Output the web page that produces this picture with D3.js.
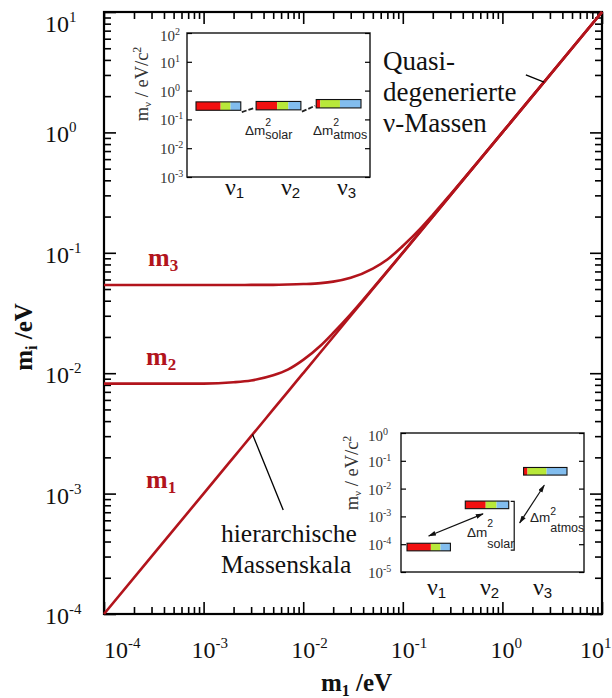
<!DOCTYPE html>
<html>
<head>
<meta charset="utf-8">
<script src="https://cdn.jsdelivr.net/npm/d3@7"></script>
<style>
body { margin: 0; background: #fff; }
svg text { font-family: "Liberation Serif", "Times New Roman", serif; fill: #111; }
svg text.sans { font-family: "Liberation Sans", Arial, sans-serif; fill: #222; }
</style>
</head>
<body>
<div id="output"></div>
<script>
(function () {

"use strict";

// main chart: the three neutrino masses against the lightest one
var m1Values = [1e-4, 1e-3, 2e-3, 3e-3, 5e-3, 7e-3, 1e-2, 1.5e-2, 2e-2, 3e-2, 5e-2, 7e-2, 0.1, 0.15, 0.2, 0.3, 0.5, 1, 10]
var m2Values = [0.0082, 0.0082, 0.0084, 0.0087, 0.0096, 0.0107, 0.0129, 0.017, 0.0216, 0.031, 0.0507, 0.0705, 0.1003, 0.150, 0.200, 0.300, 0.500, 1, 10]
var m3Values = [0.054, 0.054, 0.054, 0.0541, 0.0542, 0.0545, 0.055, 0.056, 0.0576, 0.062, 0.074, 0.088, 0.114, 0.159, 0.207, 0.305, 0.503, 1, 10]
var decades = [1e-4, 1e-3, 1e-2, 1e-1, 1, 10]
var decadeExp = ["-4", "-3", "-2", "-1", "0", "1"]

// insets: mass of each eigenstate and its flavour shares (e, mu, tau)
var nuNames = ["1", "2", "3"]
var degenerateMasses = [0.29, 0.30, 0.35]
var hierarchicMasses = [7.9e-5, 2.6e-3, 0.042]
var eShare = [0.55, 0.47, 0.09]
var muShare = [0.22, 0.25, 0.44]
var tauShare = [0.23, 0.28, 0.47]
var topInsetTicks = [1e2, 1e1, 1, 1e-1, 1e-2, 1e-3]
var topInsetExp = ["2", "1", "0", "-1", "-2", "-3"]
var bottomInsetTicks = [1, 1e-1, 1e-2, 1e-3, 1e-4, 1e-5]
var bottomInsetExp = ["0", "-1", "-2", "-3", "-4", "-5"]

var curveColor = "#b2141c"
  , flavourColors = ["#f21010", "#b8e83a", "#82bdee"]

var svg = d3.select("#output").append("svg").attr("width", 612).attr("height", 698)

var x = d3.scaleLog().domain([1e-4, 10]).range([104, 602])
  , y = d3.scaleLog().domain([1e-4, 10]).range([614, 12])
  , isDecade = function (v) { return Math.abs(Math.log10(v) - Math.round(Math.log10(v))) < 1e-9 }
  , minorX = x.ticks().filter(function (v) { return !isDecade(v) })
  , minorY = y.ticks().filter(function (v) { return !isDecade(v) })

function power(g, px, py, exp, size, supSize, rise) {
  var t = g.append("text").attr("x", px).attr("y", py).style("font-size", size + "px")
  t.append("tspan").text("10")
  t.append("tspan").attr("dy", -rise).style("font-size", supSize + "px").text(exp)
  return t
}

function styleAxis(g, width) {
  g.select(".domain").remove()
  g.selectAll(".tick line").attr("stroke", "#000").attr("stroke-width", width)
}

// ticks on all four sides, pointing inwards
var axes = svg.append("g")
;[[minorX, 7], [decades, 12]].forEach(function (t) {
  axes.append("g").attr("transform", "translate(0,614)")
    .call(d3.axisBottom(x).tickValues(t[0]).tickSize(-t[1]).tickFormat("")).call(styleAxis, 1.6)
  axes.append("g").attr("transform", "translate(0,12)")
    .call(d3.axisTop(x).tickValues(t[0]).tickSize(-t[1]).tickFormat("")).call(styleAxis, 1.6)
})
;[[minorY, 7], [decades, 12]].forEach(function (t) {
  axes.append("g").attr("transform", "translate(104,0)")
    .call(d3.axisLeft(y).tickValues(t[0]).tickSize(-t[1]).tickFormat("")).call(styleAxis, 1.6)
  axes.append("g").attr("transform", "translate(602,0)")
    .call(d3.axisRight(y).tickValues(t[0]).tickSize(-t[1]).tickFormat("")).call(styleAxis, 1.6)
})

svg.append("rect").attr("x", 104).attr("y", 12).attr("width", 498).attr("height", 602)
  .attr("fill", "none").attr("stroke", "#000").attr("stroke-width", 2.2)

// tick labels
decades.forEach(function (v, i) {
  var dx = i === 0 ? 0 : (i === decades.length - 1 ? -22 : -12)
  power(svg, x(v) + dx, 658, decadeExp[i], 24, 15, 10)
  power(svg, 45, y(v) + (i === decades.length - 1 ? 20 : 10), decadeExp[i], 24, 15, 10)
})

// axis titles
var xt = svg.append("text").attr("x", 321).attr("y", 691).style("font-size", "25px").style("font-weight", "bold")
xt.append("tspan").text("m")
xt.append("tspan").attr("dy", 5).style("font-size", "16px").text("1")
xt.append("tspan").attr("dy", -5).text(" /eV")

var yt = svg.append("text").attr("transform", "translate(32,337) rotate(-90)")
  .attr("text-anchor", "middle").style("font-size", "25px").style("font-weight", "bold")
yt.append("tspan").text("m")
yt.append("tspan").attr("dy", 5).style("font-size", "16px").text("i")
yt.append("tspan").attr("dy", -5).text(" /eV")

// mass curves
var line = d3.line()
  .x(function (d) { return x(d[0]) })
  .y(function (d) { return y(d[1]) })
  .curve(d3.curveMonotoneX)

;[m1Values, m2Values, m3Values].forEach(function (vals) {
  svg.append("path")
    .datum(m1Values.map(function (m, i) { return [m, vals[i]] }))
    .attr("d", line)
    .attr("fill", "none").attr("stroke", curveColor).attr("stroke-width", 2.6)
})

// curve labels
;[[148, 266, "3"], [146, 365, "2"], [146, 488, "1"]].forEach(function (l) {
  var t = svg.append("text").attr("x", l[0]).attr("y", l[1])
    .style("font-size", "26px").style("font-weight", "bold").style("fill", curveColor)
  t.append("tspan").text("m")
  t.append("tspan").attr("dy", 5).style("font-size", "17px").text(l[2])
})

// annotations
;["Quasi-", "degenerierte", "\u03bd-Massen"].forEach(function (s, i) {
  svg.append("text").attr("x", 383).attr("y", 70 + i * 31).style("font-size", "27px").text(s)
})
;["hierarchische", "Massenskala"].forEach(function (s, i) {
  svg.append("text").attr("x", 221).attr("y", 542 + i * 31).style("font-size", "25.5px").text(s)
})
svg.append("line")
  .attr("x1", x(1.72)).attr("y1", y(3.0)).attr("x2", x(2.62)).attr("y2", y(2.62))
  .attr("stroke", "#000").attr("stroke-width", 1.3)
svg.append("line")
  .attr("x1", x(0.0031)).attr("y1", y(0.0031)).attr("x2", x(0.0063)).attr("y2", y(7.3e-4))
  .attr("stroke", "#000").attr("stroke-width", 1.3)

// arrow heads for the bottom inset
svg.append("defs").append("marker")
  .attr("id", "arrow").attr("viewBox", "0 0 10 6").attr("refX", 9).attr("refY", 3)
  .attr("markerWidth", 8).attr("markerHeight", 5).attr("markerUnits", "userSpaceOnUse")
  .attr("orient", "auto-start-reverse")
  .append("path").attr("d", "M0,0L10,3L0,6Z").attr("fill", "#111")

function inset(opts) {
  var g = svg.append("g")
    , ys = d3.scaleLog().domain(opts.domain).range([opts.bottom, opts.top])
    , band = d3.scaleBand().domain(nuNames).range(opts.barRange).paddingInner(0.255)
    , labelPos = d3.scalePoint().domain(nuNames).range(opts.labelRange)

  g.append("rect").attr("x", opts.left).attr("y", opts.top)
    .attr("width", opts.right - opts.left).attr("height", opts.bottom - opts.top)
    .attr("fill", "#fff").attr("stroke", "#222").attr("stroke-width", 1.5)

  g.append("g").attr("transform", "translate(" + opts.left + ",0)")
    .call(d3.axisLeft(ys).tickValues(opts.ticks).tickSize(-5).tickFormat("")).call(styleAxis, 1.2)
  g.append("g").attr("transform", "translate(" + opts.right + ",0)")
    .call(d3.axisRight(ys).tickValues(opts.ticks).tickSize(-5).tickFormat("")).call(styleAxis, 1.2)

  opts.ticks.forEach(function (v, i) {
    power(g, opts.labelX, ys(v) + (i === 0 ? 8 : 6), opts.exps[i], 15, 10, 6).style("fill", "#333")
  })

  var t = g.append("text").attr("transform", "translate(" + opts.titleX + "," + opts.titleY + ") rotate(-90)")
    .attr("text-anchor", "middle").style("font-size", "18.5px").style("fill", "#333")
  t.append("tspan").text("m")
  t.append("tspan").attr("dy", 3).style("font-size", "11px").text("\u03bd")
  t.append("tspan").attr("dy", -3).text(" / eV/c")
  t.append("tspan").attr("dy", -7).style("font-size", "12px").text("2")

  // flavour composition bars
  opts.masses.forEach(function (m, i) {
    var x0 = band(nuNames[i]), w = band.bandwidth(), cy = ys(m), h = opts.barHeight
      , shares = [eShare[i], muShare[i], tauShare[i]], acc = 0
    shares.forEach(function (s, k) {
      g.append("rect").attr("x", x0 + acc * w).attr("y", cy - h / 2)
        .attr("width", s * w).attr("height", h).attr("fill", flavourColors[k])
      acc += s
    })
    g.append("rect").attr("x", x0).attr("y", cy - h / 2).attr("width", w).attr("height", h)
      .attr("fill", "none").attr("stroke", "#111").attr("stroke-width", 1.1)
  })

  nuNames.forEach(function (n) {
    var lt = g.append("text").attr("x", labelPos(n)).attr("y", opts.labelY).style("font-size", "24px")
    lt.append("tspan").text("\u03bd")
    lt.append("tspan").attr("dy", 3)
      .style("font-family", "Liberation Sans, Arial, sans-serif").style("font-size", "15px").text(n)
  })

  return { g: g, ys: ys, band: band }
}

function deltaLabel(g, px, py, sub, supRise, subDrop) {
  var t = g.append("text").attr("class", "sans").attr("x", px).attr("y", py).style("font-size", "13.5px").text("\u0394m")
    , w = t.node().getComputedTextLength()
  g.append("text").attr("class", "sans").attr("x", px + w).attr("y", py - supRise).style("font-size", "10.5px").text("2")
  g.append("text").attr("class", "sans").attr("x", px + w).attr("y", py + subDrop).style("font-size", "12.5px").text(sub)
}

// top inset: quasi degenerate masses
var top = inset({
  left: 187, right: 370, top: 33, bottom: 177, domain: [1e-3, 1e2],
  ticks: topInsetTicks, exps: topInsetExp, labelX: 160,
  titleX: 148, titleY: 84, masses: degenerateMasses, barHeight: 8.4,
  barRange: [196, 361], labelRange: [225, 337], labelY: 195
})
;[[0, 1], [1, 2]].forEach(function (p) {
  var b = top.band, w = b.bandwidth()
  top.g.append("line")
    .attr("x1", b(nuNames[p[0]]) + w + 1).attr("y1", top.ys(degenerateMasses[p[0]]) + 6)
    .attr("x2", b(nuNames[p[1]]) - 1).attr("y2", top.ys(degenerateMasses[p[1]]) + 2)
    .attr("stroke", "#222").attr("stroke-width", 1.8).attr("stroke-dasharray", "5,2")
})
deltaLabel(top.g, 245, 135, "solar", 9, 4)
deltaLabel(top.g, 313, 135, "atmos", 9, 4)

// bottom inset: hierarchical masses
var bot = inset({
  left: 401, right: 584, top: 433, bottom: 572, domain: [1e-5, 1],
  ticks: bottomInsetTicks, exps: bottomInsetExp, labelX: 368,
  titleX: 358, titleY: 473, masses: hierarchicMasses, barHeight: 7.6,
  barRange: [407, 567], labelRange: [427, 533], labelY: 595
})
var bb = bot.band, bw = bb.bandwidth()
  , yb = hierarchicMasses.map(function (m) { return bot.ys(m) })
bot.g.append("line")
  .attr("x1", bb("1") + bw / 2).attr("y1", yb[0] - 11)
  .attr("x2", bb("2") + bw / 2 - 4).attr("y2", yb[1] + 9)
  .attr("stroke", "#111").attr("stroke-width", 1.2)
  .attr("marker-start", "url(#arrow)").attr("marker-end", "url(#arrow)")
bot.g.append("line")
  .attr("x1", bb("2") + bw + 11).attr("y1", yb[1] + 18)
  .attr("x2", bb("3") + bw / 2 - 1).attr("y2", yb[2] + 14)
  .attr("stroke", "#111").attr("stroke-width", 1.2)
  .attr("marker-start", "url(#arrow)").attr("marker-end", "url(#arrow)")
bot.g.append("path")
  .attr("d", "M" + (bb("2") + bw + 2) + "," + (yb[1] - 3.5) + "h3.5V" + (yb[0] + 3) + "h-3.5")
  .attr("fill", "none").attr("stroke", "#111").attr("stroke-width", 1.2)
deltaLabel(bot.g, 467, 536.5, "solar", 9.5, 11)
deltaLabel(bot.g, 530, 521.5, "atmos", 7, 10)

}())
</script>
</body>
</html>
